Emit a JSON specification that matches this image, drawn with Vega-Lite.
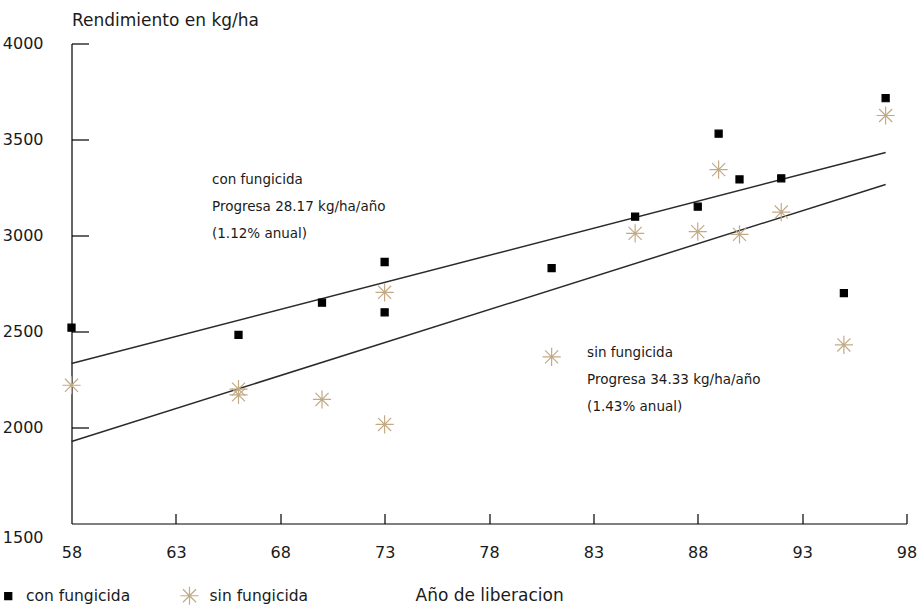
{
  "$schema": "https://vega.github.io/schema/vega-lite/v6.json",
  "width": 835,
  "height": 480,
  "autosize": {"type": "none"},
  "padding": {"left": 71.5, "top": 43.5, "right": 12, "bottom": 84},
  "background": "white",
  "config": {
    "view": {"stroke": null},
    "font": "DejaVu Sans",
    "axis": {"labelFont": "DejaVu Sans", "titleFont": "DejaVu Sans", "labelColor": "#1a1a1a", "titleColor": "#1a1a1a", "domainColor": "#000", "tickColor": "#000", "domainWidth": 1.2, "tickWidth": 1.2, "grid": false},
    "legend": {"labelFont": "DejaVu Sans"}
  },
  "datasets": {
    "puntos": [
      {"anio": 58, "rend": 2520, "serie": "con fungicida"},
      {"anio": 66, "rend": 2482, "serie": "con fungicida"},
      {"anio": 70, "rend": 2650, "serie": "con fungicida"},
      {"anio": 73, "rend": 2862, "serie": "con fungicida"},
      {"anio": 73, "rend": 2600, "serie": "con fungicida"},
      {"anio": 81, "rend": 2830, "serie": "con fungicida"},
      {"anio": 85, "rend": 3098, "serie": "con fungicida"},
      {"anio": 88, "rend": 3150, "serie": "con fungicida"},
      {"anio": 89, "rend": 3530, "serie": "con fungicida"},
      {"anio": 90, "rend": 3292, "serie": "con fungicida"},
      {"anio": 92, "rend": 3298, "serie": "con fungicida"},
      {"anio": 95, "rend": 2700, "serie": "con fungicida"},
      {"anio": 97, "rend": 3715, "serie": "con fungicida"},
      {"anio": 58, "rend": 2220, "serie": "sin fungicida"},
      {"anio": 66, "rend": 2200, "serie": "sin fungicida"},
      {"anio": 66, "rend": 2170, "serie": "sin fungicida"},
      {"anio": 70, "rend": 2146, "serie": "sin fungicida"},
      {"anio": 73, "rend": 2704, "serie": "sin fungicida"},
      {"anio": 73, "rend": 2016, "serie": "sin fungicida"},
      {"anio": 81, "rend": 2368, "serie": "sin fungicida"},
      {"anio": 85, "rend": 3011, "serie": "sin fungicida"},
      {"anio": 88, "rend": 3020, "serie": "sin fungicida"},
      {"anio": 89, "rend": 3343, "serie": "sin fungicida"},
      {"anio": 90, "rend": 3006, "serie": "sin fungicida"},
      {"anio": 92, "rend": 3122, "serie": "sin fungicida"},
      {"anio": 95, "rend": 2430, "serie": "sin fungicida"},
      {"anio": 97, "rend": 3625, "serie": "sin fungicida"}
    ],
    "rectas": [
      {"anio": 58, "rend": 2333, "serie": "con fungicida"},
      {"anio": 97, "rend": 3432, "serie": "con fungicida"},
      {"anio": 58, "rend": 1927, "serie": "sin fungicida"},
      {"anio": 97, "rend": 3266, "serie": "sin fungicida"}
    ],
    "notas": [
      {"anio": 64.73, "rend": 3324, "texto": "con fungicida\nProgresa 28.17 kg/ha/año\n(1.12% anual)"},
      {"anio": 82.7, "rend": 2423, "texto": "sin fungicida\nProgresa 34.33 kg/ha/año\n(1.43% anual)"}
    ]
  },
  "resolve": {"axis": {"x": "independent", "y": "independent"}},
  "layer": [
    {
      "data": {"name": "rectas"},
      "mark": {"type": "line", "color": "#2a2a2a", "strokeWidth": 1.5},
      "encoding": {
        "x": {
          "field": "anio", "type": "quantitative",
          "scale": {"domain": [58, 98], "nice": false, "zero": false},
          "axis": {
            "orient": "bottom",
            "values": [58, 63, 68, 73, 78, 83, 88, 93, 98],
            "ticks": false, "tickSize": 0, "labelPadding": 21, "labelFontSize": 16,
            "labelBaseline": "top", "labelFlush": false,
            "title": "Año de liberacion", "titleFontSize": 17, "titleFontWeight": "normal",
            "titleAlign": "left", "titleAnchor": "start", "titleBaseline": "middle",
            "titleX": 343.5, "titleY": 71.5
          }
        },
        "y": {
          "field": "rend", "type": "quantitative",
          "scale": {"domain": [1500, 4000], "nice": false, "zero": false},
          "axis": {
            "orient": "left",
            "values": [1500, 2000, 2500, 3000, 3500, 4000],
            "format": "d",
            "ticks": false, "tickSize": 0, "labelPadding": 28.5, "labelFontSize": 16,
            "labelFlush": false,
            "labelOffset": {"condition": {"test": "datum.value == 1500", "value": 14}, "value": 0},
            "title": "Rendimiento en kg/ha", "titleFontSize": 17, "titleFontWeight": "normal",
            "titleAngle": 0, "titleAlign": "left", "titleAnchor": "start", "titleBaseline": "middle",
            "titleX": 0, "titleY": -23
          }
        },
        "detail": {"field": "serie", "type": "nominal"}
      }
    },
    {
      "data": {"name": "puntos"},
      "mark": {"type": "point", "opacity": 1, "strokeWidth": 1.2},
      "encoding": {
        "x": {
          "field": "anio", "type": "quantitative",
          "scale": {"domain": [58, 98], "nice": false, "zero": false},
          "axis": {
            "orient": "top", "offset": -480,
            "values": [63, 68, 73, 78, 83, 88, 93, 98],
            "domain": false, "labels": false, "ticks": true, "tickSize": 10, "title": null
          }
        },
        "y": {
          "field": "rend", "type": "quantitative",
          "scale": {"domain": [1500, 4000], "nice": false, "zero": false},
          "axis": {
            "orient": "right", "offset": -835,
            "values": [2000, 2500, 3000, 3500, 4000],
            "domain": false, "labels": false, "ticks": true, "tickSize": 17, "title": null
          }
        },
        "shape": {"field": "serie", "type": "nominal", "scale": {"domain": ["con fungicida", "sin fungicida"], "range": ["square", "M-1,0L1,0M0,-1L0,1M-0.72,-0.72L0.72,0.72M-0.72,0.72L0.72,-0.72"]},
          "legend": {"title": null, "orient": "none", "legendX": -71, "legendY": 542, "direction": "horizontal", "labelFontSize": 15.5, "labelColor": "#1a1a1a", "labelOffset": 10, "columnPadding": 47, "symbolStrokeWidth": 1.2, "symbolOpacity": 1}},
        "fill": {"field": "serie", "type": "nominal", "scale": {"domain": ["con fungicida", "sin fungicida"], "range": ["#000000", "transparent"]}},
        "stroke": {"field": "serie", "type": "nominal", "scale": {"domain": ["con fungicida", "sin fungicida"], "range": ["#000000", "#c2aa85"]}},
        "size": {"field": "serie", "type": "nominal", "scale": {"domain": ["con fungicida", "sin fungicida"], "range": [50, 330]}}
      }
    },
    {
      "data": {"name": "notas"},
      "mark": {"type": "text", "align": "left", "baseline": "top", "fontSize": 13.5, "lineBreak": "\n", "lineHeight": 27, "color": "#1a1a1a", "font": "DejaVu Sans"},
      "encoding": {
        "x": {"field": "anio", "type": "quantitative", "scale": {"domain": [58, 98], "nice": false, "zero": false}, "axis": null},
        "y": {"field": "rend", "type": "quantitative", "scale": {"domain": [1500, 4000], "nice": false, "zero": false}, "axis": null},
        "text": {"field": "texto"}
      }
    }
  ]
}
